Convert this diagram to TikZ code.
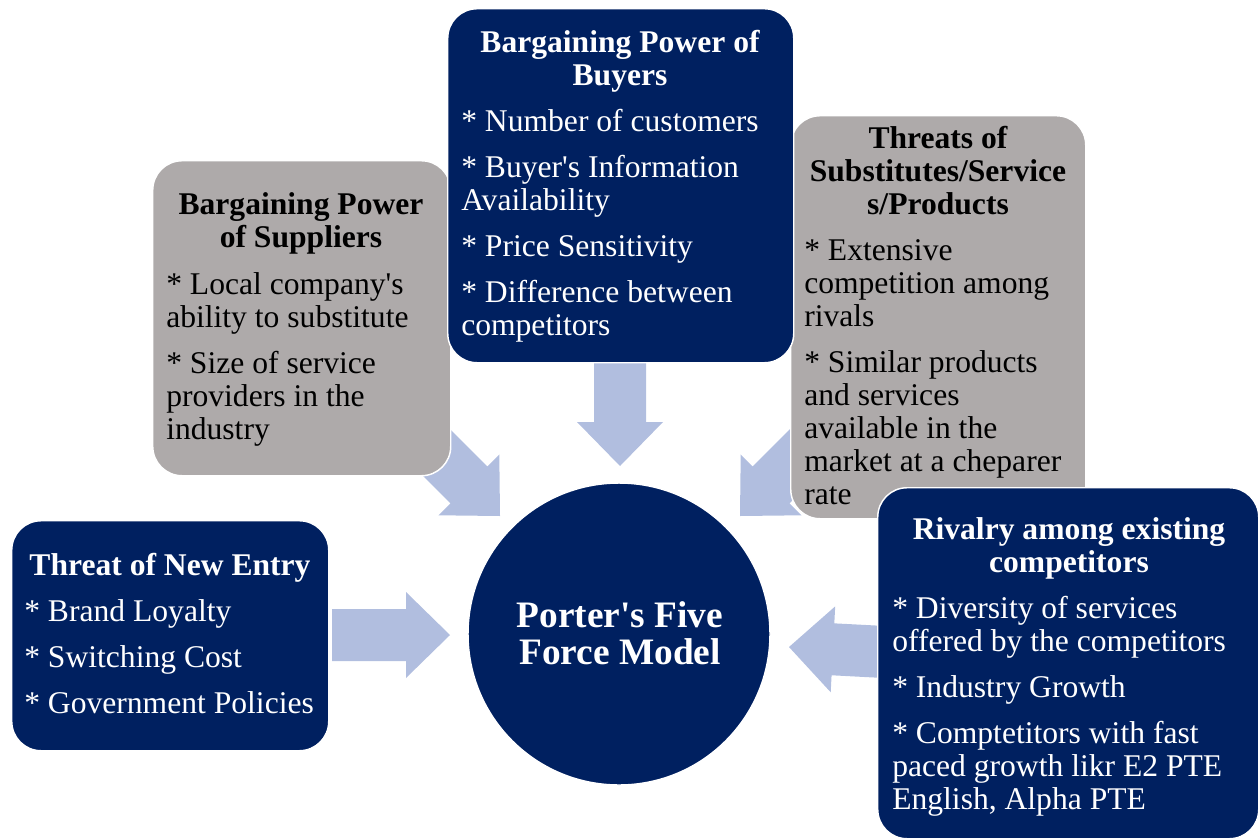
\documentclass[tikz,border=0pt]{standalone}
\usepackage{fontspec}
\setmainfont{Liberation Serif}
\definecolor{navy}{RGB}{0,32,96}
\definecolor{boxgrey}{RGB}{174,170,170}
\definecolor{arrowfill}{RGB}{177,190,223}
\tikzset{
  boxbase/.style={draw=white, line width=1.1pt, rounded corners=22pt, anchor=north west, inner sep=0pt},
  navybox/.style={boxbase, fill=navy},
  greybox/.style={boxbase, fill=boxgrey},
  bodytext/.style={font=\fontsize{23.7}{24.75}\selectfont, inner sep=0pt, align=left, anchor=base west},
  titletext/.style={font=\bfseries\fontsize{23.7}{24.75}\selectfont, inner sep=0pt, align=center, anchor=base},
  pics/barrow/.style={code={
    \fill[arrowfill] (-#1,-26) -- (-44,-26) -- (-44,-43) -- (0,0) -- (-44,43) -- (-44,26) -- (-#1,26) -- cycle;}}
}
\newcommand\pgap{\\[9.75pt]}
\begin{document}
\begin{tikzpicture}[x=0.75pt,y=-0.75pt]
\useasboundingbox (0,0) rectangle (1260,839);
% block arrows
\pic[rotate=-90] at (620,466) {barrow=104};
\pic[rotate=-45] at (500,516) {barrow=100};
\pic[rotate=-135] at (740,516) {barrow=100};
\pic at (450,635) {barrow=118};
\pic[rotate=177] at (789,647) {barrow=92};
% boxes
\node[greybox, minimum width=223.5pt, minimum height=236.25pt] (sup) at (152,160) {};
\node[greybox, minimum width=221.25pt, minimum height=302.25pt] (sub) at (790,115) {};
\node[navybox, minimum width=259.5pt, minimum height=265.5pt] (buy) at (447,8) {};
\node[navybox, minimum width=237.75pt, minimum height=172.5pt] (ent) at (11,520) {};
\node[navybox, minimum width=285.75pt, minimum height=263.25pt] (riv) at (877,487) {};
\node[circle, fill=navy, draw=white, line width=1.1pt, minimum size=226.5pt, inner sep=0pt] (core) at (619,634) {};
% buyers (anchors at the last line's baseline)
\node[titletext, text=white] (buyT) at (620,85) {Bargaining Power of\\Buyers};
\node[bodytext, text=white] (buyB) at (461,335) {* Number of customers\pgap * Buyer\textquotesingle s Information\\Availability\pgap * Price Sensitivity\pgap * Difference between\\competitors};
% suppliers
\node[titletext, text=black] (supT) at (301,247) {Bargaining Power\\of Suppliers};
\node[bodytext, text=black] (supB) at (166,439) {* Local company\textquotesingle s\\ability to substitute\pgap * Size of service\\providers in the\\industry};
% substitutes
\node[titletext, text=black] (subT) at (938,214) {Threats of\\Substitutes/Service\\s/Products};
\node[bodytext, text=black] (subB) at (804,504) {* Extensive\\competition among\\rivals\pgap * Similar products\\and services\\available in the\\market at a cheparer\\rate};
% new entry
\node[titletext, text=white] (entT) at (170,575) {Threat of New Entry};
\node[bodytext, text=white] (entB) at (24,713) {* Brand Loyalty\pgap * Switching Cost\pgap * Government Policies};
% rivalry
\node[titletext, text=white] (rivT) at (1069,572) {Rivalry among existing\\competitors};
\node[bodytext, text=white] (rivB) at (892,809) {* Diversity of services\\offered by the competitors\pgap * Industry Growth\pgap * Comptetitors with fast\\paced growth likr E2 PTE\\English, Alpha PTE};
% core
\node[font=\bfseries\fontsize{28}{27.75}\selectfont, text=white, align=center, anchor=base, inner sep=0pt] (coreT) at (620,664) {Porter\textquotesingle s Five\\Force Model};
\end{tikzpicture}
\end{document}
